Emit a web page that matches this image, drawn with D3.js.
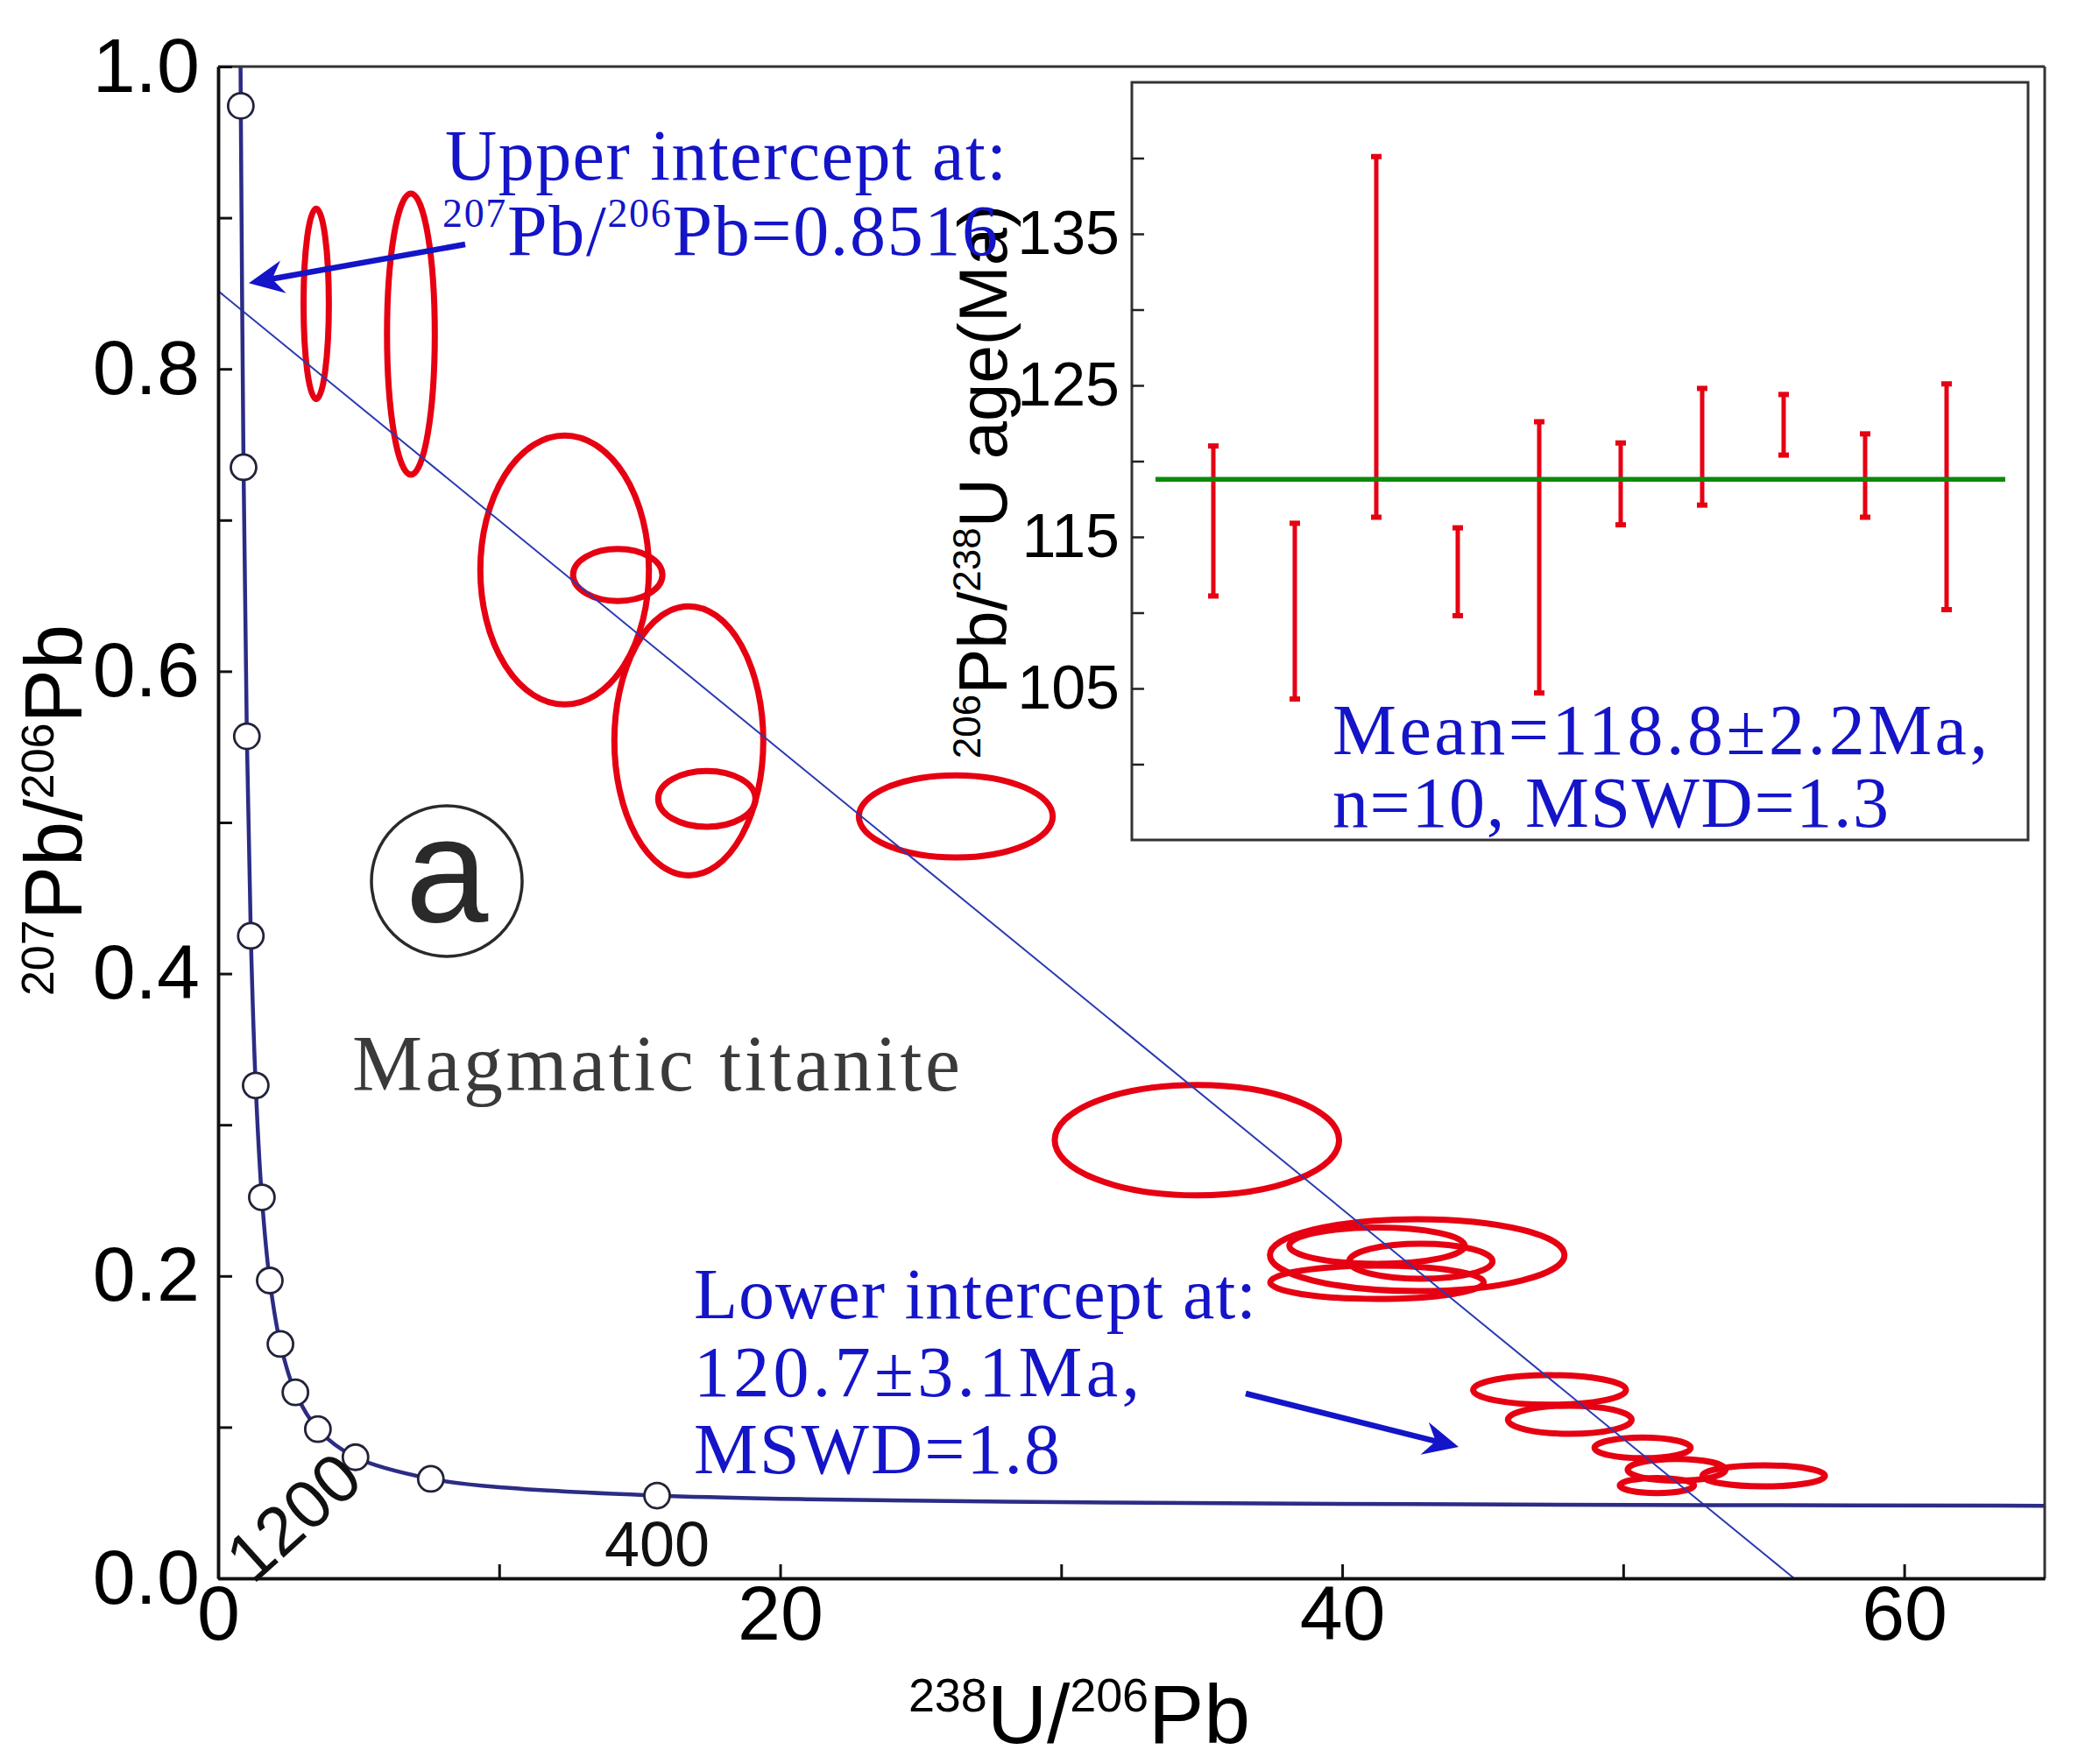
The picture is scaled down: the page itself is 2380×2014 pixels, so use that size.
<!DOCTYPE html>
<html>
<head>
<meta charset="utf-8">
<script src="https://cdn.jsdelivr.net/npm/d3@7"></script>
<style>
  html, body { margin: 0; padding: 0; background: #fff; }
  svg { display: block; }
</style>
</head>
<body>
<svg id="chart" width="2380" height="2014"></svg>
<script>
// ---------- Tera-Wasserburg concordia (age in Ma, 238U/206Pb, 207Pb/206Pb) ----------
const concordiaAge = [5400, 5200, 4800, 4400, 4000, 3600, 3200, 2800, 2400, 2000, 1600, 1200, 800, 600, 400, 300, 200, 150, 120, 98];
const concordiaU238Pb206 = [0.763, 0.806, 0.904, 1.022, 1.163, 1.337, 1.556, 1.838, 2.217, 2.749, 3.550, 4.888, 7.568, 10.25, 15.62, 20.99, 31.73, 42.48, 53.22, 65.28];
const concordiaPb207Pb206 = [1.123, 0.974, 0.735, 0.557, 0.425, 0.326, 0.252, 0.197, 0.155, 0.123, 0.0987, 0.0801, 0.0658, 0.0599, 0.0547, 0.0523, 0.0501, 0.0491, 0.0484, 0.0480];
const markerAges = [400, 800, 1200, 1600, 2000, 2400, 2800, 3200, 3600, 4000, 4400, 4800, 5200];
const labelledAges = [1200, 400];

// ---------- discordia regression line ----------
const upperIntercept = 0.8516;          // 207Pb/206Pb at 238U/206Pb = 0
const discordiaX = [0, 56.08];
const discordiaY = [upperIntercept, 0];

// ---------- titanite analyses: error ellipses (centre and half-axes) ----------
const spotU238Pb206 = [3.49, 6.86, 12.33, 14.22, 16.75, 17.39, 26.25, 34.83, 42.67, 41.24, 42.80, 41.24, 47.38, 48.10, 50.69, 51.90, 51.20, 55.00];
const spotPb207Pb206 = [0.843, 0.823, 0.667, 0.6637, 0.554, 0.5156, 0.504, 0.2898, 0.2138, 0.220, 0.2097, 0.1958, 0.1246, 0.1049, 0.0863, 0.0718, 0.0614, 0.0678];
const spotErrU = [0.45, 0.85, 3.00, 1.59, 2.65, 1.73, 3.45, 5.06, 5.24, 3.12, 2.55, 3.80, 2.72, 2.20, 1.71, 1.74, 1.32, 2.18];
const spotErrPb = [0.063, 0.093, 0.089, 0.0172, 0.089, 0.0185, 0.0272, 0.0365, 0.0238, 0.012, 0.0116, 0.011, 0.0098, 0.0093, 0.0068, 0.0072, 0.005, 0.007];

// ---------- inset: 206Pb/238U ages with error bars ----------
const grainNo = [1, 2, 3, 4, 5, 6, 7, 8, 9, 10];
const ageLow = [111.1, 104.3, 116.3, 109.8, 104.7, 115.8, 117.1, 120.4, 116.3, 110.2];
const ageHigh = [121.0, 115.9, 140.1, 115.6, 122.6, 121.2, 124.8, 124.4, 121.8, 125.1];
const weightedMean = 118.8;

// ---------- axis ticks ----------
const xMajorTicks = [0, 20, 40, 60];
const xMinorTicks = [10, 30, 50];
const yMajorTicks = [0, 0.2, 0.4, 0.6, 0.8, 1.0];
const yMinorTicks = [0.1, 0.3, 0.5, 0.7, 0.9];
const insetTicks = [100, 105, 110, 115, 120, 125, 130, 135, 140];
const insetTickLabels = [105, 115, 125, 135];

// ---------- styles ----------
const SANS = "'Liberation Sans', Arial, sans-serif";
const SERIF = "'Liberation Serif', 'Times New Roman', serif";
const BLUE = "#1414c8";
const RED = "#e60012";
const NAVY = "#2c2c86";

const svg = d3.select("#chart");
svg.append("rect").attr("width", 2380).attr("height", 2014).attr("fill", "#fff");

const x = d3.scaleLinear().domain([0, 65]).range([249, 2334]);
const y = d3.scaleLinear().domain([0, 1]).range([1802, 76]);

svg.append("clipPath").attr("id", "plotClip")
  .append("rect")
  .attr("x", x(0)).attr("y", y(1))
  .attr("width", x(65) - x(0)).attr("height", y(0) - y(1));

const plot = svg.append("g").attr("clip-path", "url(#plotClip)");

// error ellipses
const spots = spotU238Pb206.map((v, i) => ({ u: v, pb: spotPb207Pb206[i], eu: spotErrU[i], epb: spotErrPb[i] }));
plot.append("g").selectAll("ellipse").data(spots).join("ellipse")
  .attr("cx", d => x(d.u))
  .attr("cy", d => y(d.pb))
  .attr("rx", d => x(d.u + d.eu) - x(d.u))
  .attr("ry", d => y(d.pb) - y(d.pb + d.epb))
  .attr("fill", "none")
  .attr("stroke", RED)
  .attr("stroke-width", 7);

// discordia
const discordia = discordiaX.map((v, i) => [v, discordiaY[i]]);
plot.append("path")
  .datum(discordia)
  .attr("d", d3.line().x(d => x(d[0])).y(d => y(d[1])))
  .attr("fill", "none")
  .attr("stroke", "#2a3ab0")
  .attr("stroke-width", 2);

// concordia curve
const concordia = concordiaAge.map((a, i) => ({ age: a, u: concordiaU238Pb206[i], pb: concordiaPb207Pb206[i] }));
plot.append("path")
  .datum(concordia)
  .attr("d", d3.line().x(d => x(d.u)).y(d => y(d.pb)).curve(d3.curveCatmullRom.alpha(0.5)))
  .attr("fill", "none")
  .attr("stroke", NAVY)
  .attr("stroke-width", 4.5);

const markers = concordia.filter(d => markerAges.includes(d.age));
plot.append("g").selectAll("circle").data(markers).join("circle")
  .attr("cx", d => x(d.u))
  .attr("cy", d => y(d.pb))
  .attr("r", 14.5)
  .attr("fill", "#fff")
  .attr("stroke", "#22223a")
  .attr("stroke-width", 2.8);

// age labels on the concordia
const lab1200 = concordia.find(d => d.age === labelledAges[0]);
svg.append("text")
  .attr("transform", `translate(${x(lab1200.u) - 71},${y(lab1200.pb) + 68}) rotate(-42)`)
  .attr("text-anchor", "middle").attr("dy", "0.35em")
  .attr("font-family", SANS).attr("font-size", 78).attr("fill", "#111")
  .text(String(labelledAges[0]));
const lab400 = concordia.find(d => d.age === labelledAges[1]);
svg.append("text")
  .attr("x", x(lab400.u)).attr("y", y(lab400.pb) + 80)
  .attr("text-anchor", "middle")
  .attr("font-family", SANS).attr("font-size", 72).attr("fill", "#111")
  .text(String(labelledAges[1]));

// frame (top and right)
svg.append("line").attr("x1", x(0)).attr("x2", x(65)).attr("y1", y(1)).attr("y2", y(1))
  .attr("stroke", "#333").attr("stroke-width", 3);
svg.append("line").attr("x1", x(65)).attr("x2", x(65)).attr("y1", y(1)).attr("y2", y(0))
  .attr("stroke", "#333").attr("stroke-width", 3);

// axes
function styleAxis(g, size) {
  g.select(".domain").attr("stroke", "#111").attr("stroke-width", 3.5);
  g.selectAll(".tick line").attr("stroke", "#111").attr("stroke-width", 3);
  g.selectAll(".tick text").attr("font-family", SANS).attr("font-size", size).attr("fill", "#000");
}
const xAxisMinor = svg.append("g").attr("transform", `translate(0,${y(0)})`)
  .call(d3.axisBottom(x).tickValues(xMinorTicks).tickSize(-16).tickSizeOuter(0).tickFormat(""));
styleAxis(xAxisMinor, 88);
const xAxis = svg.append("g").attr("transform", `translate(0,${y(0)})`)
  .call(d3.axisBottom(x).tickValues(xMajorTicks).tickSize(-16).tickSizeOuter(0).tickPadding(8).tickFormat(d3.format("d")));
styleAxis(xAxis, 88);

const yAxisMinor = svg.append("g").attr("transform", `translate(${x(0)},0)`)
  .call(d3.axisLeft(y).tickValues(yMinorTicks).tickSize(-16).tickSizeOuter(0).tickFormat(""));
styleAxis(yAxisMinor, 88);
const yAxis = svg.append("g").attr("transform", `translate(${x(0)},0)`)
  .call(d3.axisLeft(y).tickValues(yMajorTicks).tickSize(-16).tickSizeOuter(0).tickPadding(21).tickFormat(d3.format(".1f")));
styleAxis(yAxis, 88);

// rich text helper (superscripts, optional width fitting)
function richText(parent, px, py, parts, o) {
  const t = parent.append("text")
    .attr("x", px).attr("y", py)
    .attr("font-family", o.family).attr("font-size", o.size).attr("fill", o.fill);
  if (o.anchor) t.attr("text-anchor", o.anchor);
  if (o.transform) t.attr("transform", o.transform);
  let shifted = false;
  parts.forEach(p => {
    const s = t.append("tspan").text(p.t);
    if (p.sup) {
      s.attr("font-size", o.supSize);
      if (!shifted) { s.attr("dy", -o.supShift); shifted = true; }
    } else if (shifted) {
      s.attr("dy", o.supShift); shifted = false;
    }
  });
  if (o.width) {
    const n = t.text().length;
    const w = t.node().getComputedTextLength();
    t.attr("letter-spacing", (o.width - w) / (n - 1));
  }
  return t;
}

// axis titles
richText(svg, 1037, 1990,
  [{ t: "238", sup: true }, { t: "U/" }, { t: "206", sup: true }, { t: "Pb" }],
  { family: SANS, size: 95, supSize: 54, supShift: 36, fill: "#000", width: 390 });
richText(svg, 0, 0,
  [{ t: "207", sup: true }, { t: "Pb/" }, { t: "206", sup: true }, { t: "Pb" }],
  { family: SANS, size: 92, supSize: 52, supShift: 32, fill: "#000", anchor: "middle", transform: "translate(93,925) rotate(-90)" });

// ---------- inset: weighted mean plot ----------
const ix = d3.scaleLinear().domain([0, 11]).range([1292, 2315]);
const iy = d3.scaleLinear().domain([95, 145]).range([959, 94]);
const inset = svg.append("g");
inset.append("rect")
  .attr("x", ix(0)).attr("y", iy(145))
  .attr("width", ix(11) - ix(0)).attr("height", iy(95) - iy(145))
  .attr("fill", "#fff").attr("stroke", "#333").attr("stroke-width", 3);

const insetAxis = inset.append("g").attr("transform", `translate(${ix(0)},0)`)
  .call(d3.axisLeft(iy).tickValues(insetTicks).tickSize(-14).tickSizeOuter(0).tickPadding(14)
    .tickFormat(d => insetTickLabels.includes(d) ? String(d) : ""));
insetAxis.select(".domain").remove();
insetAxis.selectAll(".tick line").attr("stroke", "#222").attr("stroke-width", 2.5);
insetAxis.selectAll(".tick text").attr("font-family", SANS).attr("font-size", 70).attr("fill", "#000");

const grains = grainNo.map((g, i) => ({ g, lo: ageLow[i], hi: ageHigh[i] }));
const bars = inset.append("g").selectAll("g").data(grains).join("g");
bars.append("line")
  .attr("x1", d => ix(d.g)).attr("x2", d => ix(d.g))
  .attr("y1", d => iy(d.lo)).attr("y2", d => iy(d.hi))
  .attr("stroke", RED).attr("stroke-width", 5);
bars.append("line")
  .attr("x1", d => ix(d.g) - 6).attr("x2", d => ix(d.g) + 6)
  .attr("y1", d => iy(d.hi)).attr("y2", d => iy(d.hi))
  .attr("stroke", RED).attr("stroke-width", 6);
bars.append("line")
  .attr("x1", d => ix(d.g) - 6).attr("x2", d => ix(d.g) + 6)
  .attr("y1", d => iy(d.lo)).attr("y2", d => iy(d.lo))
  .attr("stroke", RED).attr("stroke-width", 6);

inset.append("line")
  .attr("x1", ix(0.29)).attr("x2", ix(10.72))
  .attr("y1", iy(weightedMean)).attr("y2", iy(weightedMean))
  .attr("stroke", "#0a8a0a").attr("stroke-width", 5.5);

richText(svg, 0, 0,
  [{ t: "206", sup: true }, { t: "Pb/" }, { t: "238", sup: true }, { t: "U age(Ma)" }],
  { family: SANS, size: 78, supSize: 44, supShift: 30, fill: "#000", anchor: "middle", transform: "translate(1149,550) rotate(-90)" });

richText(svg, 1521, 861, [{ t: "Mean=118.8\u00b12.2Ma," }],
  { family: SERIF, size: 82, fill: BLUE, width: 748 });
richText(svg, 1521, 944, [{ t: "n=10, MSWD=1.3" }],
  { family: SERIF, size: 82, fill: BLUE, width: 635 });

// ---------- annotations ----------
richText(svg, 508, 205, [{ t: "Upper intercept at:" }],
  { family: SERIF, size: 82, fill: BLUE, width: 641 });
richText(svg, 505, 291,
  [{ t: "207", sup: true }, { t: "Pb/" }, { t: "206", sup: true }, { t: "Pb=0.8516" }],
  { family: SERIF, size: 82, supSize: 46, supShift: 32, fill: BLUE, width: 634 });

richText(svg, 792, 1505, [{ t: "Lower intercept at:" }],
  { family: SERIF, size: 82, fill: BLUE, width: 642 });
richText(svg, 792, 1594, [{ t: "120.7\u00b13.1Ma," }],
  { family: SERIF, size: 82, fill: BLUE, width: 509 });
richText(svg, 792, 1682, [{ t: "MSWD=1.8" }],
  { family: SERIF, size: 82, fill: BLUE, width: 418 });

richText(svg, 402, 1245, [{ t: "Magmatic titanite" }],
  { family: SERIF, size: 90, fill: "#3a3a3a", width: 694 });

// circled panel letter
svg.append("circle").attr("cx", 510).attr("cy", 1006).attr("r", 86)
  .attr("fill", "none").attr("stroke", "#2a2a2a").attr("stroke-width", 3.5);
svg.append("text").attr("x", 510).attr("y", 1052)
  .attr("text-anchor", "middle")
  .attr("font-family", SANS).attr("font-size", 170).attr("fill", "#2a2a2a")
  .text("a");

// arrows
function arrow(x1, y1, x2, y2) {
  const ang = Math.atan2(y2 - y1, x2 - x1);
  const L = 40, Wd = 19, notch = 13;
  const g = svg.append("g").attr("transform", `translate(${x2},${y2}) rotate(${ang * 180 / Math.PI})`);
  const len = Math.hypot(x2 - x1, y2 - y1);
  g.append("line").attr("x1", -len).attr("y1", 0).attr("x2", -notch - 2).attr("y2", 0)
    .attr("stroke", BLUE).attr("stroke-width", 6.5);
  g.append("path")
    .attr("d", `M0,0 L${-L},${-Wd} L${-L + notch},0 L${-L},${Wd} Z`)
    .attr("fill", BLUE);
}
arrow(531, 279, x(0) + 35, y(upperIntercept) - 9);
arrow(1422, 1591, 1665, 1652);
</script>
</body>
</html>
